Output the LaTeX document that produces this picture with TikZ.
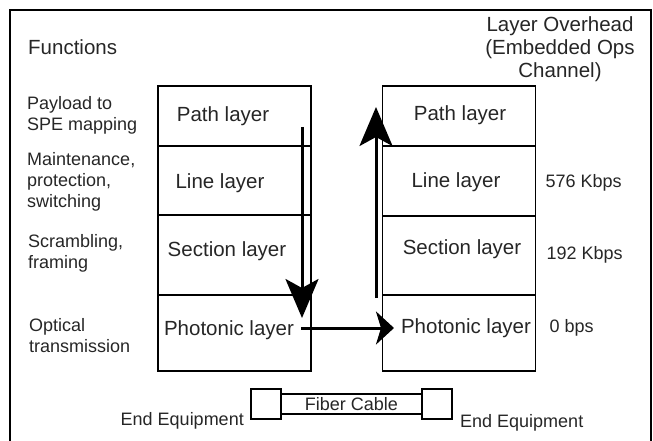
\documentclass[tikz,border=0pt]{standalone}
\usepackage{fontspec}
\setmainfont{Liberation Sans}
\usetikzlibrary{positioning,arrows.meta}

\begin{document}
\begin{tikzpicture}[x=1pt, y=-1pt, node distance=0pt,
        layer/.style={draw, rectangle, line width=1.2pt, outer sep=0pt, minimum width=153pt},
        big/.style={text=black!85, font=\fontsize{20.5}{23}\selectfont, align=center, inner sep=0pt},
        small/.style={text=black!85, font=\fontsize{18}{21}\selectfont, align=left, inner sep=0pt},
        downarrow/.style={line width=3pt, -{Stealth[length=39pt, width=33pt, inset=9pt]}},
        sidearrow/.style={line width=3pt, -{Stealth[length=18pt, width=33pt, inset=5pt]}}]
        \useasboundingbox (0,0) rectangle (653,441);
        \draw[line width=1.2pt] (10,445) -- (10,10) -- (651,10) -- (651,445);

        % headings
        \node[big, anchor=west] (func) at (28,47) {Functions};
        \node[big] (ovh) at (560,49) {Layer Overhead\\(Embedded Ops\\Channel)};

        % sending side
        \node[layer, minimum height=60pt, label={[big, xshift=-11.5pt]center:Path layer}] (lpath) at (234.5,116) {};
        \node[layer, minimum height=69pt, below=of lpath, label={[big, xshift=-14.5pt, yshift=-2.5pt]center:Line layer}] (lline) {};
        \node[layer, minimum height=80pt, below=of lline, label={[big, xshift=-7.5pt, yshift=4pt]center:Section layer}] (lsec) {};
        \node[layer, minimum height=76pt, below=of lsec, label={[big, xshift=-5.5pt, yshift=3pt]center:Photonic layer}] (lphot) {};

        % receiving side
        \node[layer, minimum height=60pt, right=71.5pt of lpath, label={[big, xshift=1pt, yshift=1pt]center:Path layer}] (rpath) {};
        \node[layer, minimum height=70pt, below=of rpath, label={[big, xshift=-3pt, yshift=-1.5pt]center:Line layer}] (rline) {};
        \node[layer, minimum height=79pt, below=of rline, label={[big, xshift=3pt, yshift=6pt]center:Section layer}] (rsec) {};
        \node[layer, minimum height=76pt, below=of rsec, label={[big, xshift=7pt, yshift=5pt]center:Photonic layer}] (rphot) {};

        % functions
        \node[small, anchor=west] (fpath) at (27,115.5) {Payload to\\SPE mapping};
        \node[small, anchor=west] (fline) at (27,181.5) {Maintenance,\\protection,\\switching};
        \node[small, anchor=west] (fsec) at (28,253.5) {Scrambling,\\framing};
        \node[small, anchor=west] (fphot) at (29,335.5) {Optical\\transmission};

        % overhead rates
        \node[small, right=10pt of rline, yshift=-1.5pt] (oline) {576 Kbps};
        \node[small, right=11pt of rsec, yshift=1pt] (osec) {192 Kbps};
        \node[small, right=14pt of rphot, yshift=5pt] (ophot) {0 bps};

        \draw[downarrow] ([xshift=-9pt, yshift=-11pt]lpath.east) -- ([xshift=-9pt, yshift=-23pt]lphot.north east);
        \draw[sidearrow] ([xshift=-10pt, yshift=5pt]lphot.east) -- ([xshift=11.5pt, yshift=5pt]rphot.west);
        \draw[downarrow] ([xshift=-6.5pt, yshift=-3pt]rphot.north west) -- ([xshift=-6.5pt, yshift=9pt]rpath.west);

        % fiber link
        \node[layer, minimum width=30pt, minimum height=30pt] (leq) at (266,404) {};
        \node[layer, minimum width=141pt, minimum height=20pt, right=of leq, big, font=\fontsize{18}{21}\selectfont] (cable) {Fiber Cable};
        \node[layer, minimum width=30pt, minimum height=30pt, right=of cable] (req) {};
        \node[small, anchor=east] (leqname) at ([xshift=-7pt, yshift=-2pt]leq.south west) {End Equipment};
        \node[small, anchor=west] (reqname) at ([xshift=8pt, yshift=-4pt]req.south east) {End Equipment};
    \end{tikzpicture}
\end{document}
